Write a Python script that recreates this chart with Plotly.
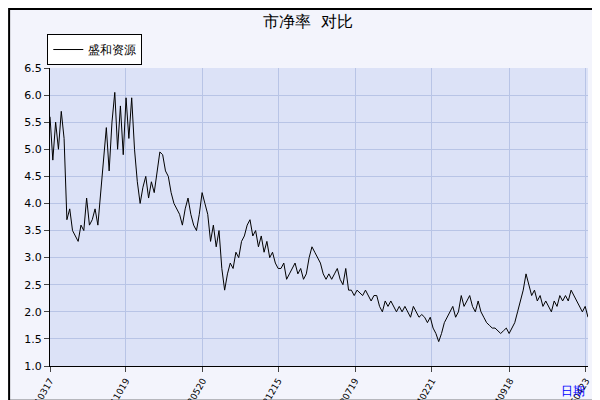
import plotly.graph_objects as go

# 市净率 readings for 盛和资源, left to right along the chart
pb = [5.6, 4.8, 5.5, 5.0, 5.7, 5.2,
      3.7, 3.9, 3.5, 3.4, 3.3, 3.6, 3.5, 4.1, 3.6,
      3.7, 3.9, 3.6, 4.2, 4.8, 5.4, 4.6, 5.5,
      6.05, 5.0, 5.8, 4.9, 5.95, 5.2, 5.95, 5.0, 4.4,
      4.0, 4.3, 4.5, 4.1, 4.4, 4.2, 4.6, 4.95,
      4.9, 4.6, 4.5, 4.2, 4.0, 3.9, 3.8, 3.6, 3.9, 4.1, 3.8,
      3.6, 3.5, 3.8, 4.2, 4.0, 3.8, 3.3, 3.6,
      3.2, 3.5, 2.8, 2.4, 2.7, 2.9, 2.8, 3.1, 3.0,
      3.3, 3.4, 3.6, 3.7, 3.4, 3.5, 3.2, 3.4, 3.1,
      3.3, 3.0, 3.1, 2.9, 2.8, 2.8, 2.9, 2.6, 2.7, 2.8, 2.9,
      2.7, 2.8, 2.6, 2.7, 3.0, 3.2, 3.1, 3.0, 2.9,
      2.7, 2.6, 2.7, 2.6, 2.7, 2.8, 2.6, 2.5, 2.8,
      2.4, 2.4, 2.3, 2.4, 2.35, 2.3, 2.4, 2.3, 2.2, 2.3,
      2.3, 2.1, 2.0, 2.2, 2.1, 2.2, 2.1, 2.0, 2.1, 2.0, 2.1,
      2.0, 1.9, 2.1, 2.0, 1.9, 1.95, 1.9, 1.8, 1.9, 1.7, 1.6, 1.45,
      1.6, 1.8, 1.9, 2.0, 2.1, 1.9, 2.0, 2.3, 2.1,
      2.2, 2.3, 2.1, 2.0, 2.2, 2.0, 1.9, 1.8, 1.75, 1.7,
      1.7, 1.65, 1.6, 1.65, 1.7, 1.6, 1.7, 1.8, 2.0, 2.2,
      2.4, 2.7, 2.5, 2.3, 2.4, 2.2, 2.3, 2.1, 2.2, 2.1, 2.0,
      2.2, 2.1, 2.3, 2.2, 2.3, 2.2, 2.4, 2.3, 2.2, 2.1, 2.0, 2.1, 1.9]

tick_labels = ["20210317", "20211019", "20220520", "20221215",
               "20230719", "20240221", "20240918", "20250423"]
tick_frac = [0.0, 0.141, 0.284, 0.424, 0.567, 0.710, 0.855, 0.996]

n = len(pb)
x = list(range(n))
tick_pos = [f * (n - 1) for f in tick_frac]

fig = go.Figure()
fig.add_trace(go.Scatter(x=x, y=pb, mode="lines", name="盛和资源",
                         line=dict(color="black", width=1)))

fig.update_layout(
    width=600, height=400,
    paper_bgcolor="#f3f4fc", plot_bgcolor="#dce2f7",
    font=dict(family="DejaVu Sans", size=11, color="black"),
    title=dict(text="市净率  对比", x=0.5, y=0.98, xanchor="center",
               yanchor="top", font=dict(size=16)),
    margin=dict(l=42, r=20, t=60, b=42, autoexpand=False),
    showlegend=True,
    legend=dict(x=-0.005, y=1.01, xanchor="left", yanchor="bottom",
                bgcolor="white", bordercolor="black", borderwidth=1,
                font=dict(size=12)),
    xaxis=dict(range=[0, n - 1], tickvals=tick_pos, ticktext=tick_labels,
               tickangle=-60, tickfont=dict(size=9), showgrid=True,
               gridcolor="#b8c4e6", ticks="outside", ticklen=5,
               showline=True, linecolor="black", zeroline=False),
    yaxis=dict(range=[1.0, 6.5], dtick=0.5, tickformat=".1f",
               showgrid=True, gridcolor="#b8c4e6", ticks="outside",
               ticklen=5, showline=True, linecolor="black", zeroline=False),
    shapes=[
        dict(type="rect", xref="paper", yref="paper", x0=-0.076, x1=1.024,
             y0=-0.117, y1=1.198, line=dict(color="black", width=2)),
    ],
    annotations=[
        dict(text="日期", xref="paper", yref="paper", x=0.972, y=-0.084,
             showarrow=False, font=dict(color="blue", size=12),
             xanchor="center", yanchor="middle"),
    ],
)

fig.write_html("out.html")
